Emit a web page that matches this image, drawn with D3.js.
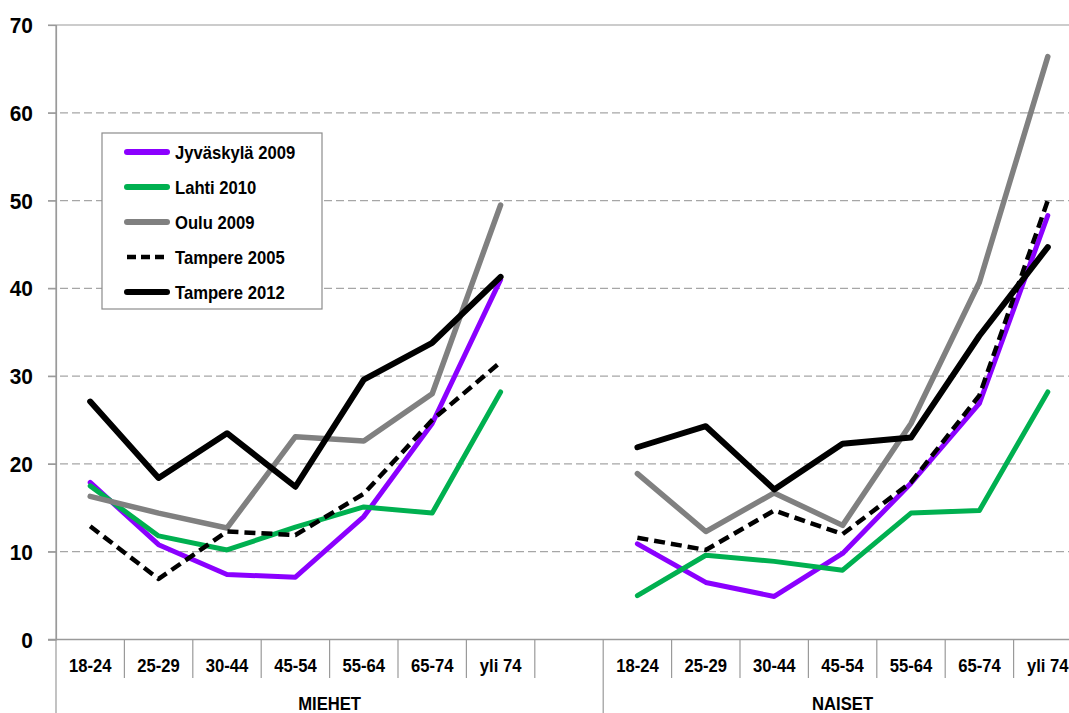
<!DOCTYPE html>
<html><head><meta charset="utf-8">
<script src="https://cdn.jsdelivr.net/npm/d3@7"></script>
<style>
html,body{margin:0;padding:0;background:#fff;}
text{font-family:Arial,"Liberation Sans",sans-serif;font-weight:bold;fill:#000;}
</style></head>
<body><svg id="c" width="1069" height="713"></svg>
<script>
// ---- data ----
const ageGroups = ["18-24","25-29","30-44","45-54","55-64","65-74","yli 74"];
const groupLabels = ["MIEHET","NAISET"];
const yTicks = [0,10,20,30,40,50,60,70];
const seriesNames = ["Jyväskylä 2009","Lahti 2010","Oulu 2009","Tampere 2005","Tampere 2012"];

const jyvMen    = [17.9, 10.8, 7.4, 7.1, 14.0, 24.6, 41.0];
const jyvWomen  = [10.9, 6.5, 4.9, 9.8, 17.8, 26.9, 48.3];
const lahtiMen  = [17.5, 11.8, 10.2, 12.8, 15.1, 14.4, 28.2];
const lahtiWomen= [5.0, 9.6, 8.9, 7.9, 14.4, 14.7, 28.2];
const ouluMen   = [16.3, 14.4, 12.7, 23.1, 22.6, 28.0, 49.5];
const ouluWomen = [18.9, 12.3, 16.7, 13.0, 24.6, 40.7, 66.4];
const t05Men    = [12.9, 6.9, 12.3, 11.9, 16.6, 25.0, 31.6];
const t05Women  = [11.6, 10.2, 14.7, 12.0, 17.9, 27.8, 50.0];
const t12Men    = [27.1, 18.4, 23.5, 17.4, 29.6, 33.8, 41.3];
const t12Women  = [21.9, 24.3, 17.1, 22.3, 23.0, 34.6, 44.7];

// ---- build ----
const svg = d3.select("#c");
const W = 1069, H = 713;
const x0 = 56, xEnd = 1082;
const slots = ageGroups.length*2 + 1; // 7 + blank + 7
const slotIdx = d3.range(slots);
const slotLabel = i => i < 7 ? ageGroups[i] : (i === 7 ? "" : ageGroups[i-8]);

const x = d3.scaleBand().domain(slotIdx).range([x0, xEnd]).padding(0);
const y = d3.scaleLinear().domain([0,70]).range([639.5, 25]);

// condensed text helper
function label(g, tx, ty, str, size, anchor, sx) {
  return g.append("text")
    .attr("transform", `translate(${tx},${ty}) scale(${sx},1)`)
    .attr("text-anchor", anchor).attr("font-size", size).text(str);
}

// gridlines
const grid = svg.append("g");
yTicks.forEach(v => {
  if (v === 0) return;
  grid.append("line")
    .attr("x1", 48).attr("x2", W)
    .attr("y1", y(v)).attr("y2", y(v))
    .attr("stroke", v === 70 ? "#9a9a9a" : "#a6a6a6")
    .attr("stroke-width", 1.2)
    .attr("stroke-dasharray", v === 70 ? null : "8,4");
});

// y axis
const yAxis = d3.axisLeft(y).tickValues(yTicks).tickSize(8).tickFormat("");
const ya = svg.append("g").attr("transform", `translate(${x0},0)`).call(yAxis);
ya.select(".domain").attr("stroke", "#9a9a9a").attr("stroke-width", 1.2);
ya.selectAll(".tick line").attr("stroke", "#9a9a9a").attr("stroke-width", 1.2);
yTicks.forEach(v => label(svg, 33, y(v) + 8, d3.format("d")(v), 22, "end", 0.95));
svg.append("line").attr("x1", x0).attr("x2", x0).attr("y1", 25).attr("y2", H).attr("stroke", "#9a9a9a").attr("stroke-width", 1.2);

// x axis baseline
svg.append("line").attr("x1", 48).attr("x2", W).attr("y1", y(0)).attr("y2", y(0)).attr("stroke", "#9a9a9a").attr("stroke-width", 1.5);
// category separators
slotIdx.forEach(i => {
  if (i === 0) return;
  const xx = x(i);
  const full = (i === 8);
  svg.append("line").attr("x1", xx).attr("x2", xx)
    .attr("y1", y(0)).attr("y2", full ? H : 678)
    .attr("stroke", "#9a9a9a").attr("stroke-width", 1.2);
});
// category labels
slotIdx.forEach(i => {
  const t = slotLabel(i);
  if (!t) return;
  label(svg, x(i) + x.bandwidth()/2, 672, t, 18.5, "middle", 0.9);
});
// group labels
label(svg, (x(0) + x(7) + x.bandwidth())/2, 710, groupLabels[0], 18.5, "middle", 0.9);
label(svg, (x(8) + xEnd)/2, 710, groupLabels[1], 18.5, "middle", 0.9);

// series
const series = [
  {name: seriesNames[0], men: jyvMen, women: jyvWomen, color: "#8b00ff", width: 5, dash: null},
  {name: seriesNames[1], men: lahtiMen, women: lahtiWomen, color: "#00b050", width: 5, dash: null},
  {name: seriesNames[2], men: ouluMen, women: ouluWomen, color: "#808080", width: 5.5, dash: null},
  {name: seriesNames[3], men: t05Men, women: t05Women, color: "#000000", width: 4.5, dash: "11,6"},
  {name: seriesNames[4], men: t12Men, women: t12Women, color: "#000000", width: 6, dash: null}
];
const line = d3.line()
  .defined(d => d.v != null)
  .x(d => x(d.i) + x.bandwidth()/2)
  .y(d => y(d.v));
series.forEach(s => {
  const pts = slotIdx.map(i => ({i, v: i < 7 ? s.men[i] : (i === 7 ? null : s.women[i-8])}));
  svg.append("path").datum(pts).attr("d", line)
    .attr("fill","none").attr("stroke", s.color).attr("stroke-width", s.width)
    .attr("stroke-dasharray", s.dash)
    .attr("stroke-linejoin","round").attr("stroke-linecap", s.dash ? "butt" : "round");
});

// legend
const lg = svg.append("g");
lg.append("rect").attr("x",102).attr("y",133).attr("width",220).attr("height",176)
  .attr("fill","#fff").attr("stroke","#8c8c8c").attr("stroke-width",1.2);
series.forEach((s, k) => {
  const yy = 152 + 35*k;
  lg.append("line").attr("x1",127).attr("x2",167).attr("y1",yy).attr("y2",yy)
    .attr("stroke", s.color).attr("stroke-width", s.dash ? 4.5 : 6)
    .attr("stroke-dasharray", s.dash ? "9,5" : null)
    .attr("stroke-linecap", s.dash ? "butt" : "round");
  label(lg, 175, yy + 7, s.name, 18.5, "start", 0.9);
});
</script></body></html>
